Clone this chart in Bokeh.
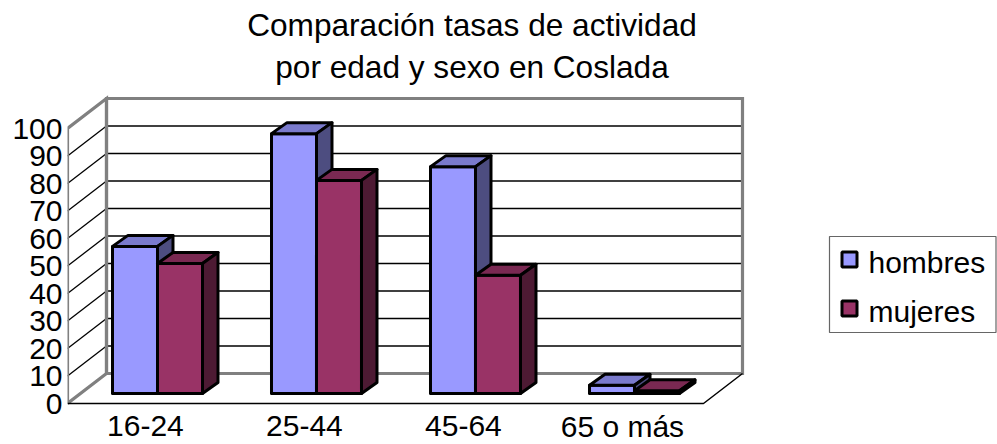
from bokeh.plotting import figure
from bokeh.models import Range1d, FixedTicker, ColumnDataSource
from bokeh.core.properties import value
from bokeh.embed import file_html
from bokeh.resources import INLINE

# ---------------- data ----------------
categories = ["16-24", "25-44", "45-64", "65 o más"]
series_names = ["hombres", "mujeres"]
hombres = [53.5, 94.5, 82.5, 3.0]
mujeres = [47.3, 77.5, 43.0, 1.0]
y_ticks = [0, 10, 20, 30, 40, 50, 60, 70, 80, 90, 100]
title_lines = ["Comparación tasas de actividad", "por edad y sexo en Coslada"]

# ---------------- style ----------------
FRONT_COLORS = ["#9999FF", "#993366"]
TOP_COLORS = ["#7A7ACC", "#7A2952"]
SIDE_COLORS = ["#4D4D80", "#4D1A33"]
WALL_GRAY = "#808080"
FONT = "Liberation Sans"

W, H = 997, 444
LEFT = 67          # frame left in canvas px
PX_X = 159.0       # px per category slot
PX_Y = 2.75        # px per value unit
ZERO_PY = 403.0    # canvas y of value 0 on the front plane
BASE_FIX = 0.36    # empirical correction of the alphabetic baseline (em)


def fx(px):
    return (px - LEFT) / PX_X


def fy(py):
    return (ZERO_PY - py) / PX_Y


def fy_base(py, size):
    return fy(py - BASE_FIX * size)


WALL_DX = 39 / PX_X
WALL_DY = 30 / PX_Y
BAR_BX = 0.066          # bar front-face offset (depth) in x
BAR_BY = 10 / PX_Y      # bar front-face offset (depth) in y
BAR_W = 45 / PX_X
BAR_DDX = 15.5 / PX_X   # bar depth
BAR_DDY = 11 / PX_Y
YMAX = y_ticks[-1]
n = len(categories)

p = figure(width=W, height=H,
           x_range=Range1d(0, (W - LEFT) / PX_X),
           y_range=Range1d(fy(H), fy(0)),
           x_axis_location=None, y_axis_location="left",
           toolbar_location=None, output_backend="svg",
           min_border_left=LEFT, min_border_right=0,
           min_border_top=0, min_border_bottom=0)
p.outline_line_color = None
p.grid.grid_line_color = None
p.background_fill_color = "white"
p.border_fill_color = "white"

# y axis (front-left edge)
p.yaxis.ticker = FixedTicker(ticks=y_ticks, minor_ticks=[])
p.yaxis.axis_line_color = None
p.yaxis.major_tick_line_color = None
p.yaxis.minor_tick_line_color = None
p.yaxis.major_tick_out = 0
p.yaxis.major_tick_in = 0
p.yaxis.major_label_standoff = 5
p.yaxis.major_label_text_font = FONT
p.yaxis.major_label_text_font_size = "30px"
p.yaxis.major_label_text_color = "black"

# ---------------- walls ----------------
p.patch([0, n, n + WALL_DX, WALL_DX], [0, 0, WALL_DY, WALL_DY],
        fill_color="white", line_color=None)
p.patch([0, 0, WALL_DX, WALL_DX], [0, YMAX, YMAX + WALL_DY, WALL_DY],
        fill_color="white", line_color=None)
p.quad(left=WALL_DX, right=n + WALL_DX, bottom=WALL_DY, top=YMAX + WALL_DY,
       fill_color="white", line_color=None)

grid_vals = [t for t in y_ticks if 0 < t < YMAX]
p.segment(x0=[WALL_DX] * len(grid_vals), x1=[n + WALL_DX] * len(grid_vals),
          y0=[v + WALL_DY for v in grid_vals], y1=[v + WALL_DY for v in grid_vals],
          line_color="black", line_width=1.3)
p.segment(x0=[0] * len(grid_vals), x1=[WALL_DX] * len(grid_vals),
          y0=grid_vals, y1=[v + WALL_DY for v in grid_vals],
          line_color="black", line_width=1.3)

p.multi_line(
    xs=[[0, 0, WALL_DX, WALL_DX, 0],
        [WALL_DX, n + WALL_DX, n + WALL_DX, WALL_DX, WALL_DX]],
    ys=[[0, YMAX, YMAX + WALL_DY, WALL_DY, 0],
        [WALL_DY, WALL_DY, YMAX + WALL_DY, YMAX + WALL_DY, WALL_DY]],
    line_color=WALL_GRAY, line_width=3.2, line_join="miter")

p.line([0, n, n + WALL_DX], [0, 0, WALL_DY], line_color="black", line_width=1.5)

# ---------------- bars ----------------
xs, ys, fills = [], [], []
for i in range(n):
    c = i + 0.5 + BAR_BX
    for s, vals in enumerate([hombres, mujeres]):
        v = vals[i]
        x0 = c - BAR_W if s == 0 else c
        x1 = x0 + BAR_W
        y0 = BAR_BY
        y1 = BAR_BY + v
        xs.append([x0, x1, x1, x0]); ys.append([y0, y0, y1, y1]); fills.append(FRONT_COLORS[s])
        xs.append([x0, x1, x1 + BAR_DDX, x0 + BAR_DDX])
        ys.append([y1, y1, y1 + BAR_DDY, y1 + BAR_DDY]); fills.append(TOP_COLORS[s])
        xs.append([x1, x1 + BAR_DDX, x1 + BAR_DDX, x1])
        ys.append([y0, y0 + BAR_DDY, y1 + BAR_DDY, y1]); fills.append(SIDE_COLORS[s])

src = ColumnDataSource(dict(xs=xs, ys=ys, fill=fills))
p.patches("xs", "ys", source=src, fill_color="fill", line_color="black",
          line_width=3, line_join="round")

# ---------------- category labels ----------------
p.text(x=[i + 0.49 for i in range(n)], y=[fy_base(436.5, 30)] * n, text=categories,
       text_font=value(FONT), text_font_size="30px", text_color="black",
       text_align="center", text_baseline="alphabetic")

# ---------------- title ----------------
p.text(x=[fx(471.5)] * 2, y=[fy_base(36.5, 32), fy_base(78, 32)], text=title_lines,
       text_font=value(FONT), text_font_size="31.6px", text_color="black",
       text_align="center", text_baseline="alphabetic")

# ---------------- legend ----------------
p.quad(left=fx(829), right=fx(995.5), top=fy(236), bottom=fy(332),
       fill_color=None, line_color="#666666", line_width=1.2)
leg_y = [259, 308]
p.scatter(x=[fx(849)] * 2, y=[fy(v) for v in leg_y], marker="square", size=15,
          fill_color=FRONT_COLORS, line_color="black", line_width=3)
p.text(x=[fx(868)] * 2, y=[fy_base(v + 14, 30) for v in leg_y], text=series_names,
       text_font=value(FONT), text_font_size="30px", text_color="black",
       text_align="left", text_baseline="alphabetic")

open("out.html", "w").write(file_html(p, INLINE))
